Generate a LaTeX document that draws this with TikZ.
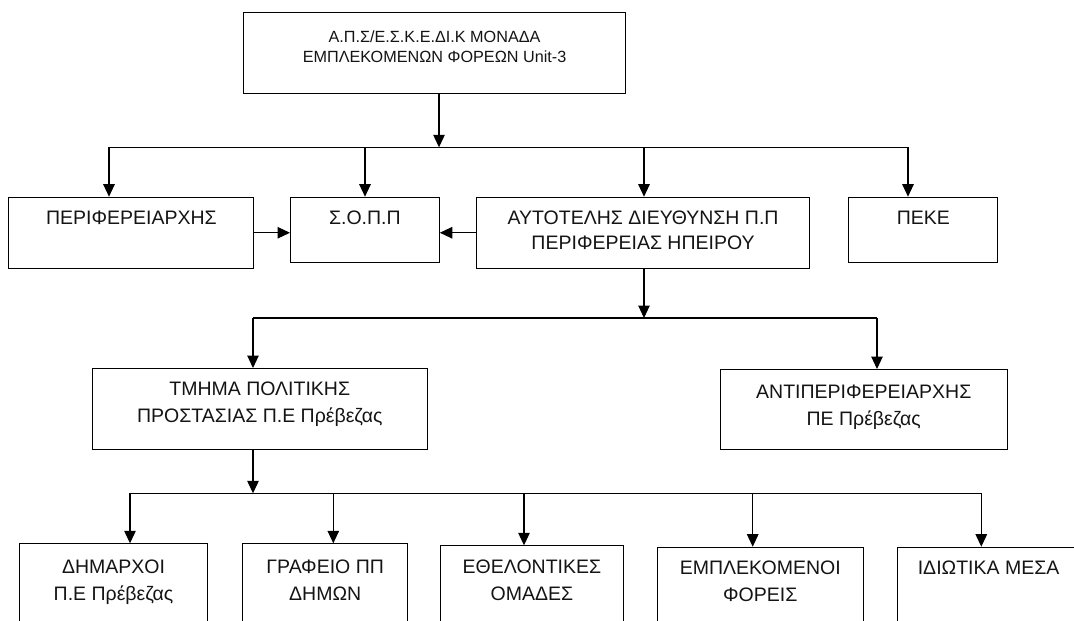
\documentclass[tikz,border=0pt]{standalone}
\usepackage{fontspec}
\setmainfont{Liberation Sans}
\usetikzlibrary{arrows.meta}
\newcommand\mlines[2][24.7pt]{\vtop{\baselineskip=#1\relax\lineskip=0pt\lineskiplimit=-100pt\halign{\hfil##\hfil\cr#2\crcr}}}
\tikzset{
  box/.style={draw=black, line width=1.1pt, inner sep=0pt, anchor=north west,
    font=\fontsize{19.5}{24.7}\selectfont, text=black!92},
  arr/.style={draw=black, line width=1.1pt, -{Triangle[length=12.5pt,width=11.5pt]}},
  wire/.style={draw=black, line width=1.1pt},
}
\begin{document}
\begin{tikzpicture}[x=1pt,y=-1pt]
\useasboundingbox (0,0) rectangle (1074,621);
\clip (0,0) rectangle (1074,621);
\fill[white] (0,0) rectangle (1074,621);

% top
\node[box, minimum width=382pt, text height=30.3pt, text depth=50.7pt,
  font=\fontsize{16.2}{19.4}\selectfont] (T) at (243,12)
  {\mlines[19.4pt]{Α.Π.Σ/Ε.Σ.Κ.Ε.ΔΙ.Κ ΜΟΝΑΔΑ\cr ΕΜΠΛΕΚΟΜΕΝΩΝ ΦΟΡΕΩΝ Unit-3}};

% row 2
\node[box, minimum width=245pt, text height=27.6pt, text depth=43.4pt] (P) at (8.3,196.7)
  {\mlines{ΠΕΡΙΦΕΡΕΙΑΡΧΗΣ}};
\node[box, minimum width=148.7pt, text height=27.6pt, text depth=37.7pt] (S) at (290,196.7)
  {\mlines{Σ.Ο.Π.Π}};
\node[box, minimum width=333.6pt, text height=27.6pt, text depth=43.4pt] (A) at (475.7,196.7)
  {\mlines{ΑΥΤΟΤΕΛΗΣ ΔΙΕΥΘΥΝΣΗ Π.Π\cr ΠΕΡΙΦΕΡΕΙΑΣ ΗΠΕΙΡΟΥ}};
\node[box, minimum width=149pt, text height=27.6pt, text depth=37.7pt] (K) at (848.3,196.7)
  {\mlines{ΠΕΚΕ}};

% row 3
\node[box, minimum width=335pt, text height=27pt, text depth=54pt] (TM) at (91.7,368)
  {\mlines[26.7pt]{ΤΜΗΜΑ ΠΟΛΙΤΙΚΗΣ\cr ΠΡΟΣΤΑΣΙΑΣ Π.Ε Πρέβεζας}};
\node[box, minimum width=286.8pt, text height=28.5pt, text depth=51.5pt] (AN) at (719.8,369)
  {\mlines[27pt]{ΑΝΤΙΠΕΡΙΦΕΡΕΙΑΡΧΗΣ\cr ΠΕ Πρέβεζας}};

% row 4
\node[box, minimum width=187.4pt, text height=30pt, text depth=66.7pt] (D1) at (19.3,543.3)
  {\mlines[26.7pt]{ΔΗΜΑΡΧΟΙ\cr Π.Ε Πρέβεζας}};
\node[box, minimum width=165.3pt, text height=30pt, text depth=66.7pt] (D2) at (242,543.3)
  {\mlines[26.7pt]{ΓΡΑΦΕΙΟ ΠΠ\cr ΔΗΜΩΝ}};
\node[box, minimum width=182.7pt, text height=28pt, text depth=66.7pt] (D3) at (440,545.3)
  {\mlines[26.7pt]{ΕΘΕΛΟΝΤΙΚΕΣ\cr ΟΜΑΔΕΣ}};
\node[box, minimum width=206pt, text height=27.3pt, text depth=66pt] (D4) at (656.7,546.7)
  {\mlines[26.7pt]{ΕΜΠΛΕΚΟΜΕΝΟΙ\cr ΦΟΡΕΙΣ}};
\node[box, minimum width=181.4pt, text height=27.3pt, text depth=66pt] (D5) at (897.3,546.7)
  {\mlines[26.7pt]{ΙΔΙΩΤΙΚΑ ΜΕΣΑ}};

% connectors: top -> row 2
\coordinate (j1) at (439,147.3);
\coordinate (b1) at (109,147.3);
\coordinate (b2) at (365,147.3);
\coordinate (b3) at (644,147.3);
\coordinate (b4) at (908,147.3);
\draw[arr] (T.south -| j1) -- (j1);
\draw[wire] (b1) -- (b4);
\draw[arr] (b1) -- (b1 |- P.north);
\draw[arr] (b2) -- (b2 |- S.north);
\draw[arr] (b3) -- (b3 |- A.north);
\draw[arr] (b4) -- (b4 |- K.north);
\draw[arr] (P.east) -- (P.east -| S.west);
\draw[arr] (A.west) -- (A.west -| S.east);

% row 2 -> row 3
\coordinate (j2) at (644,318);
\coordinate (c1) at (253,318);
\coordinate (c2) at (877,318);
\draw[arr] (A.south -| j2) -- (j2);
\draw[wire] (c1) -- (c2);
\draw[arr] (c1) -- (c1 |- TM.north);
\draw[arr] (c2) -- (c2 |- AN.north);

% row 3 -> row 4
\coordinate (j3) at (253,493.3);
\coordinate (d1) at (130,493.3);
\coordinate (d2) at (333.3,493.3);
\coordinate (d3) at (524,493.3);
\coordinate (d4) at (752.7,493.3);
\coordinate (d5) at (981.3,493.3);
\draw[arr] (TM.south -| j3) -- (j3);
\draw[wire] (d1) -- (d5);
\draw[arr] (d1) -- (d1 |- D1.north);
\draw[arr] (d2) -- (d2 |- D2.north);
\draw[arr] (d3) -- (d3 |- D3.north);
\draw[arr] (d4) -- (d4 |- D4.north);
\draw[arr] (d5) -- (d5 |- D5.north);
\end{tikzpicture}
\end{document}
